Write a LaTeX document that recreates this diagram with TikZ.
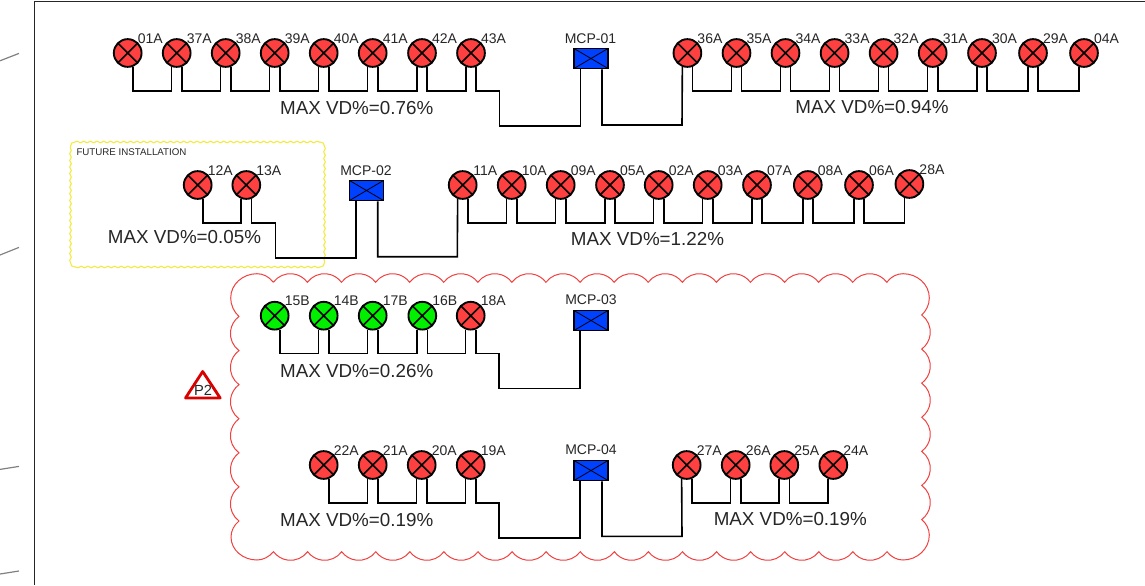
\documentclass[tikz,border=0pt]{standalone}
\usepackage{fontspec}
\setmainfont{Liberation Sans}
\usetikzlibrary{
decorations.pathmorphing,
}
\definecolor{lampred}{HTML}{FF4040}
\definecolor{lampgreen}{HTML}{00F000}
\definecolor{panelblue}{HTML}{0040FF}
\definecolor{cloudred}{HTML}{F04040}
\definecolor{futureyellow}{HTML}{F2EA3C}
\definecolor{edgegray}{HTML}{808080}
\tikzset{
lamp/.style={circle, draw, line width=1.4pt, fill=lampred, minimum size=20.8pt, inner sep=0pt,
    path picture={\draw [line width=1.2pt]
        (path picture bounding box.north west) -- (path picture bounding box.south east)
        (path picture bounding box.north east) -- (path picture bounding box.south west);}},
greenlamp/.style={lamp, fill=lampgreen},
panel/.style={rectangle, draw, line width=1.3pt, fill=panelblue, minimum width=25.5pt, minimum height=15pt, inner sep=0pt,
    path picture={\draw [line width=.6pt]
        (path picture bounding box.north west) -- (path picture bounding box.south east)
        (path picture bounding box.north east) -- (path picture bounding box.south west);}},
wire/.style={line width=1.2pt, line join=miter},
tag/.style={font=\fontsize{10.5pt}{12pt}\selectfont, text=black!85, inner sep=0pt},
drop/.style={font=\fontsize{14.1pt}{16pt}\selectfont, text=black!85, inner sep=0pt},
cloud/.style={draw=cloudred, line width=.75pt},
future/.style={draw=futureyellow, line width=.8pt,
    decoration={snake, amplitude=.6pt, segment length=5pt}},
edge/.style={draw=edgegray, line width=.9pt},
}

\begin{document}
\begin{tikzpicture}[x=.75pt, y=-.75pt]
    \useasboundingbox (0,0) rectangle (1145,585);
    % sheet edge
    \draw [line width=1pt, black!85] (34.5,585) -- (34.5,1.5) -- (1145,1.5);
    \draw [edge] (0,60.8) -- (19,53.4);
    \draw [edge] (0,255) -- (19,247.4);
    \draw [edge] (0,469.4) -- (19,466.4);
    \draw [edge] (0,574) -- (19,571);
    % revision cloud
    \draw [cloud] (273.3,282.3)
        foreach \k in {1,...,18} { arc [start angle=-143.5, delta angle=107, radius=21.2] }
        .. controls (891,276.5) and (897,273.7) .. (903,273.7)
        .. controls (917,273.7) and (929.3,284) .. (929.3,298)
        .. controls (929.3,305) and (926,311) .. (921.7,315)
        foreach \k in {1,...,6} { arc [start angle=-53.5, delta angle=107, radius=21.2] }
        .. controls (926,523) and (929.3,529) .. (929.3,535)
        .. controls (929.3,549) and (917,560) .. (903,560)
        .. controls (897,560) and (891,557) .. (887,551.7)
        foreach \k in {1,...,18} { arc [start angle=36.5, delta angle=107, radius=21.2] }
        .. controls (269,557) and (263,560) .. (257,560)
        .. controls (243,560) and (231,550) .. (231,537)
        .. controls (231,531) and (234,525) .. (239,521)
        foreach \k in {1,...,6} { arc [start angle=126.5, delta angle=107, radius=21.2] }
        .. controls (234,312) and (230.7,305) .. (230.7,298)
        .. controls (230.7,284) and (243,273.7) .. (257,273.7)
        .. controls (263,273.7) and (269,276.5) .. (273.3,282.3);
    \draw [future] (75,142) decorate { -- (320,142) } .. controls (323,142) and (324.5,143.5) .. (324.5,146.5)
        decorate { -- (324.5,262.5) } .. controls (324.5,265.5) and (323,267) .. (320,267)
        decorate { -- (75,267) } .. controls (72,267) and (70.5,265.5) .. (70.5,262.5)
        decorate { -- (70.5,146.5) } .. controls (70.5,143.5) and (72,142) .. (75,142);
    \node (futuretext) [font=\fontsize{7.3pt}{8pt}\selectfont, text=black!85, inner sep=0pt] at (131.5,152) {FUTURE INSTALLATION};
    % lamps
    \foreach \n/\x in {01A/127.7,37A/176.7,38A/225.7,39A/274.7,40A/323.7,41A/372.7,42A/422,43A/471,
            36A/687.4,35A/736.5,34A/785.5,33A/834.6,32A/883.6,31A/932.7,30A/982,29A/1033,04A/1084}
        \node (l\n) [lamp] at (\x,53) {};
    \foreach \n/\x in {12A/197.7,13A/246.3,11A/462.7,10A/511.7,09A/560.7,05A/610,02A/658.7,03A/707.7,07A/757,08A/807.8,06A/859}
        \node (l\n) [lamp] at (\x,185) {};
    \node (l28A) [lamp] at (909.4,184) {};
    \foreach \n/\x in {15B/274.7,14B/323.7,17B/372.7,16B/422.3}
        \node (l\n) [greenlamp] at (\x,315.7) {};
    \node (l18A) [lamp] at (470.7,315.7) {};
    \foreach \n/\x in {22A/323.7,21A/372.7,20A/421.7,19A/470.7,27A/686.7,26A/735.7,25A/784.3,24A/833.3}
        \node (l\n) [lamp] at (\x,465) {};
    % lamp numbers
    \foreach \n in {01A,37A,38A,39A,40A,41A,42A,43A,36A,35A,34A,33A,32A,31A,30A,29A,04A,
            12A,13A,11A,10A,09A,05A,02A,03A,07A,08A,06A,28A,
            15B,14B,17B,16B,18A,22A,21A,20A,19A,27A,26A,25A,24A}
        \node (t\n) [tag] at ([xshift=16.9pt, yshift=11pt]l\n.center) {\n};
    % panels
    \node (mcp1) [panel] at (591,58.5) {};
    \node (mcp2) [panel] at (366.5,190.5) {};
    \node (mcp3) [panel] at (591,320.5) {};
    \node (mcp4) [panel] at (591,470.5) {};
    \node (tmcp1) [tag] at (590.5,38.3) {MCP-01};
    \node (tmcp2) [tag] at (366,170.3) {MCP-02};
    \node (tmcp3) [tag] at (591,300) {MCP-03};
    \node (tmcp4) [tag] at (591,449.3) {MCP-04};
    % lamp to lamp
    \foreach \a/\b in {01A/37A,37A/38A,38A/39A,39A/40A,40A/41A,41A/42A,42A/43A,
            36A/35A,35A/34A,34A/33A,33A/32A,32A/31A,31A/30A,30A/29A,29A/04A,
            12A/13A,11A/10A,10A/09A,09A/05A,05A/02A,02A/03A,03A/07A,07A/08A,08A/06A,06A/28A,
            15B/14B,14B/17B,17B/16B,16B/18A,
            22A/21A,21A/20A,20A/19A,27A/26A,26A/25A,25A/24A}
        \draw [wire] (l\a.-70) -- ++(0,24) -| (l\b.-110);
    % lamp to panel
    \draw [wire] (l43A.-70) -- ++(0,24) -| ++(23.5,35) -| ([xshift=-7.8pt]mcp1.south);
    \draw [wire] ([xshift=8.25pt]mcp1.south) |- (682,125) -- (l36A.-110);
    \draw [wire] (l13A.-70) -- ++(0,24) -| ++(24,35) -| ([xshift=-8.1pt]mcp2.south);
    \draw [wire] ([xshift=8.4pt]mcp2.south) |- (457.3,256.7) -- (l11A.-110);
    \draw [wire] (l18A.-70) -- ++(0,24) -| ++(23.5,34.7) -| ([xshift=-8.25pt]mcp3.south);
    \draw [wire] (l19A.-70) -- ++(0,24) -| ++(23.5,35) -| ([xshift=-8.25pt]mcp4.south);
    \draw [wire] ([xshift=8.25pt]mcp4.south) |- (682,536.3) -- (l27A.-110);
    % voltage drops
    \node (vd1) [drop] at (356.7,108.3) {MAX VD\%=0.76\%};
    \node (vd2) [drop] at (872,107.3) {MAX VD\%=0.94\%};
    \node (vd3) [drop] at (184.5,237.3) {MAX VD\%=0.05\%};
    \node (vd4) [drop] at (647.5,239.3) {MAX VD\%=1.22\%};
    \node (vd5) [drop] at (356.7,370.7) {MAX VD\%=0.26\%};
    \node (vd6) [drop] at (356.7,520) {MAX VD\%=0.19\%};
    \node (vd7) [drop] at (790.3,519) {MAX VD\%=0.19\%};
    % revision mark
    \draw [draw=red!85!black, line width=2.1pt, line join=round] (185.5,398) -- (202.7,371.5) -- (220.2,398) -- cycle;
    \node (rev) [font=\fontsize{11pt}{12pt}\selectfont, text=black!85, inner sep=0pt] at (203,390) {P2};
\end{tikzpicture}
\end{document}
